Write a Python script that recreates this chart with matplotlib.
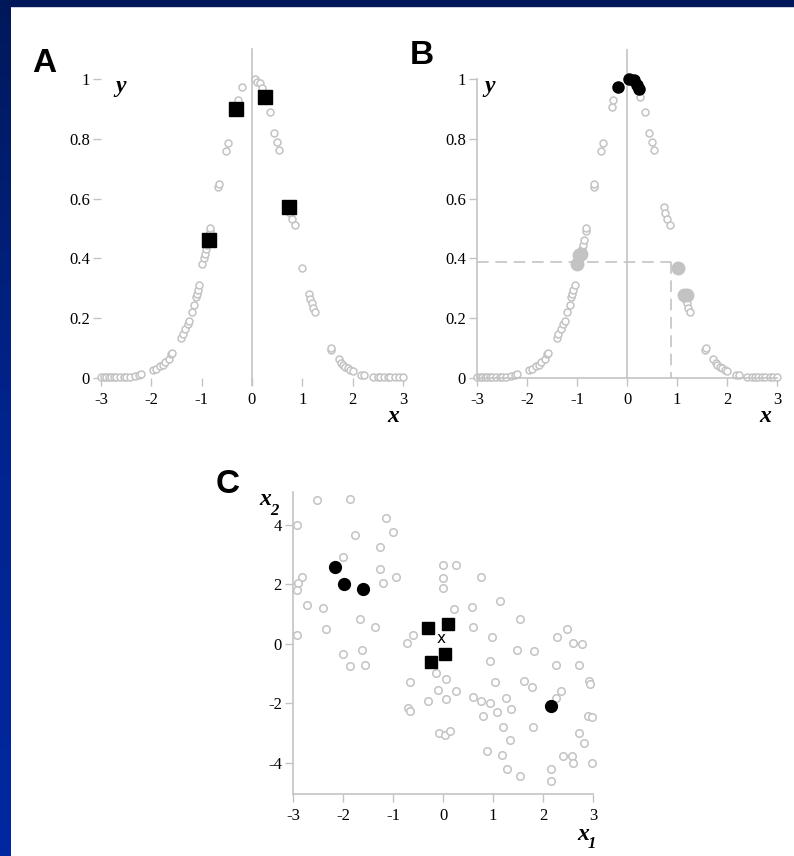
import numpy as np
import matplotlib.pyplot as plt
from matplotlib.patches import Rectangle
from matplotlib.colors import LinearSegmentedColormap

# sampled points on the bell curve (panels A and B)
curve_x = [-3.0, -2.95, -2.9, -2.85, -2.8, -2.75, -2.7, -2.62, -2.55, -2.5, -2.42, -2.33, -2.25, -2.2,
           -1.97, -1.9, -1.83, -1.77, -1.72, -1.65, -1.6, -1.58,
           -1.41, -1.38, -1.33, -1.28, -1.25, -1.2, -1.15, -1.12, -1.1, -1.08, -1.05,
           -0.99, -0.96, -0.93, -0.91, -0.89, -0.87, -0.83, -0.83,
           -0.67, -0.66, -0.52, -0.48, -0.3, -0.28, -0.19,
           0.05, 0.1, 0.15, 0.2, 0.25, 0.36, 0.44, 0.5, 0.53,
           0.73, 0.76, 0.8, 0.85, 1.0,
           1.13, 1.16, 1.19, 1.22, 1.25, 1.56, 1.57,
           1.72, 1.77, 1.8, 1.85, 1.9, 1.95, 2.0, 2.17, 2.23,
           2.4, 2.5, 2.55, 2.62, 2.7, 2.75, 2.85, 2.92, 3.0]
curve_y = [0.002, 0.002, 0.002, 0.002, 0.003, 0.003, 0.003, 0.004, 0.004, 0.004, 0.005, 0.006, 0.01, 0.012,
           0.026, 0.03, 0.04, 0.045, 0.055, 0.065, 0.08, 0.085,
           0.135, 0.148, 0.165, 0.18, 0.19, 0.22, 0.245, 0.27, 0.28, 0.295, 0.31,
           0.38, 0.4, 0.415, 0.43, 0.445, 0.46, 0.49, 0.5,
           0.64, 0.65, 0.76, 0.785, 0.905, 0.93, 0.972,
           1.0, 0.99, 0.985, 0.97, 0.94, 0.888, 0.82, 0.79, 0.763,
           0.573, 0.553, 0.53, 0.512, 0.367,
           0.28, 0.265, 0.25, 0.235, 0.22, 0.095, 0.1,
           0.065, 0.05, 0.045, 0.038, 0.033, 0.028, 0.022, 0.011, 0.01,
           0.005, 0.004, 0.004, 0.003, 0.003, 0.003, 0.002, 0.002, 0.002]

# panel A: highlighted squares
a_sq_x = [-0.86, -0.325, 0.25, 0.735]
a_sq_y = [0.462, 0.9, 0.94, 0.573]

# panel B: black (top) and grey (middle) filled points
b_top_x = [-0.19, 0.03, 0.13, 0.2, 0.23]
b_top_y = [0.973, 1.0, 0.995, 0.98, 0.965]
b_mid_x = [-1.0, -0.97, -0.93, 1.02, 1.13, 1.19]
b_mid_y = [0.38, 0.41, 0.415, 0.367, 0.278, 0.278]
b_level = 0.387
b_cut = 0.87

# panel C: 2-d scatter
c_x1 = [-2.92, -2.52, -1.87, -1.77, -1.15, -1.0, -1.27, -2.0, -1.27, -1.2, -0.95, -2.83, -2.91, -2.92,
        -2.72, -2.4, -2.35, -2.92, -1.67, -1.37, -2.0, -1.63, -1.87, -1.57, -0.72, -0.61,
        0.0, 0.26, 0.0, 0.0, 0.21, 0.75, 0.57, 0.6, 0.97, 1.13, 1.53, 0.93, 1.47, 1.81,
        2.27, 2.48, 2.6, 2.77, 2.25, 2.71, -0.15, 0.05, -0.67, -0.1, 0.25, 0.05, -0.3,
        -0.7, -0.67, 0.6, 0.75, 0.93, 0.8, 1.03, 1.07, 1.25, 1.36, 1.61, 1.78, 1.2, 1.8,
        2.35, 2.26, 2.91, 2.93, 2.89, 2.97, 2.71, 2.81, -0.09, 0.03, 0.13, 1.33, 0.88,
        1.17, 1.28, 1.53, 2.4, 2.57, 2.6, 2.97, 2.15, 2.15]
c_x2 = [4.0, 4.82, 4.88, 3.66, 4.22, 3.74, 3.24, 2.91, 2.51, 2.03, 2.23, 2.26, 2.05, 1.81,
        1.3, 1.21, 0.49, 0.31, 0.83, 0.57, -0.36, -0.21, -0.74, -0.7, 0.03, 0.29,
        2.65, 2.65, 2.2, 1.86, 1.17, 2.23, 1.22, 0.57, 0.24, 1.45, 0.83, -0.58, -0.21, -0.24,
        0.24, 0.49, 0.01, -0.02, -0.7, -0.7, -0.97, -1.19, -1.3, -1.56, -1.58, -1.86, -1.92,
        -2.15, -2.25, -1.78, -1.92, -1.98, -2.42, -1.3, -2.31, -1.82, -2.2, -1.25, -1.45, -2.79, -2.79,
        -1.58, -1.81, -1.25, -1.36, -2.42, -2.46, -3.0, -3.33, -3.0, -3.07, -2.93, -3.24, -3.6,
        -3.73, -4.2, -4.46, -3.77, -3.77, -4.0, -4.0, -4.2, -4.61]
c_dot_x1 = [-2.17, -1.99, -1.61, 2.15]
c_dot_x2 = [2.57, 2.01, 1.85, -2.09]
c_sq_x1 = [-0.3, 0.1, 0.03, -0.24]
c_sq_x2 = [0.54, 0.68, -0.35, -0.61]
c_centre = (-0.03, 0.18)

GREY = '#c3c3c3'
SERIF = 'Liberation Serif'
plt.rcParams['font.family'] = SERIF

fig = plt.figure(figsize=(7.94, 8.56), dpi=100)

# blue slide frame
strip = fig.add_axes([0, 0, 11 / 794, 1])
grad = np.linspace(0, 1, 256).reshape(-1, 1)
cmap = LinearSegmentedColormap.from_list('frame', ['#00185a', '#00248e', '#0028a0'])
strip.imshow(grad, aspect='auto', cmap=cmap, extent=[0, 1, 0, 1], origin='upper')
strip.axis('off')
fig.patches.append(Rectangle((0, 1 - 6 / 856), 1, 6 / 856, transform=fig.transFigure,
                             color='#00185a', zorder=5))


def style(ax, xt, yt, ylabels):
    ax.set_xticks(xt)
    ax.set_xticklabels([str(v) for v in xt])
    ax.set_yticks(yt)
    ax.set_yticklabels(ylabels)
    ax.tick_params(direction='out', length=6, width=1, color=GREY, labelsize=12)
    ax.tick_params(axis='x', pad=4)
    ax.tick_params(axis='y', pad=2)
    for s in ax.spines.values():
        s.set_color(GREY)
        s.set_linewidth(1.2)
    ax.spines['top'].set_visible(False)
    ax.spines['right'].set_visible(False)


def axis_word(ax, s, x, y, size=17):
    ax.text(x, y, s, fontsize=size, style='italic', weight='bold', family=SERIF,
            ha='center', va='center', clip_on=False)


ylab = ['0', '0.2', '0.4', '0.6', '0.8', '1']
open_kw = dict(ls='none', marker='o', ms=5, mfc='white', mec=GREY, mew=1.1, clip_on=False)

# ---- panel A
axA = fig.add_axes([101 / 794, 1 - 378 / 856, 302 / 794, 329 / 856])
axA.set_xlim(-3, 3)
axA.set_ylim(0, 1.1)
style(axA, [-3, -2, -1, 0, 1, 2, 3], [0, 0.2, 0.4, 0.6, 0.8, 1], ylab)
axA.spines['left'].set_visible(False)
axA.spines['bottom'].set_visible(False)
axA.axvline(0, ymin=-0.02, ymax=1, color=GREY, lw=1.2, clip_on=False, zorder=1)
axA.plot(curve_x, curve_y, **open_kw, zorder=2)
axA.plot(a_sq_x, a_sq_y, ls='none', marker='s', ms=9.5, color='black', zorder=3)
axis_word(axA, 'y', -2.62, 0.975)
axis_word(axA, 'x', 2.8, -0.13)
fig.text(44 / 794, 1 - 63 / 856, 'A', fontsize=24, weight='bold', family='Liberation Sans',
         ha='center', va='center')

# ---- panel B
axB = fig.add_axes([477 / 794, 1 - 378 / 856, 300 / 794, 329 / 856])
axB.set_xlim(-3, 3)
axB.set_ylim(0, 1.1)
style(axB, [-3, -2, -1, 0, 1, 2, 3], [0, 0.2, 0.4, 0.6, 0.8, 1], ylab)
axB.spines['left'].set_bounds(0, 1)
axB.axvline(0, color=GREY, lw=1.2, zorder=1)
axB.plot([-3, b_cut], [b_level, b_level], color=GREY, lw=1.2, ls=(0, (7, 4)), zorder=1)
axB.plot([b_cut, b_cut], [b_level, 0], color=GREY, lw=1.2, ls=(0, (7, 4)), zorder=1)
axB.plot(curve_x, curve_y, **open_kw, zorder=2)
axB.plot(b_mid_x, b_mid_y, ls='none', marker='o', ms=9, color=GREY, zorder=3)
axB.plot(b_top_x, b_top_y, ls='none', marker='o', ms=8, color='black', zorder=3, clip_on=False)
axis_word(axB, 'y', -2.74, 0.975)
axis_word(axB, 'x', 2.76, -0.13)
fig.text(422 / 794, 1 - 55 / 856, 'B', fontsize=24, weight='bold', family='Liberation Sans',
         ha='center', va='center')

# ---- panel C
axC = fig.add_axes([293 / 794, 1 - 794 / 856, 300 / 794, 302 / 856])
axC.set_xlim(-3, 3)
axC.set_ylim(-5.05, 5.1)
style(axC, [-3, -2, -1, 0, 1, 2, 3], [-4, -2, 0, 2, 4], ['-4', '-2', '0', '2', '4'])
axC.plot(c_x1, c_x2, ls='none', marker='o', ms=5.4, mfc='white', mec=GREY, mew=1.1,
         clip_on=False, zorder=2)
axC.plot(c_dot_x1, c_dot_x2, ls='none', marker='o', ms=8.5, color='black', zorder=3)
axC.plot(c_sq_x1, c_sq_x2, ls='none', marker='s', ms=9, color='black', zorder=3)
axC.text(c_centre[0], c_centre[1], 'x', fontsize=11, family='DejaVu Sans', ha='center', va='center')
axC.text(-3.56, 4.85, 'x', fontsize=17, style='italic', weight='bold', ha='center', va='center')
axC.text(-3.38, 4.45, '2', fontsize=12, style='italic', weight='bold', ha='center', va='center')
axC.text(2.8, -6.4, 'x', fontsize=17, style='italic', weight='bold', ha='center', va='center')
axC.text(2.98, -6.72, '1', fontsize=12, style='italic', weight='bold', ha='center', va='center')
fig.text(228 / 794, 1 - 485 / 856, 'C', fontsize=24, weight='bold', family='Liberation Sans',
         ha='center', va='center')

fig.savefig('out.png', dpi=100)
